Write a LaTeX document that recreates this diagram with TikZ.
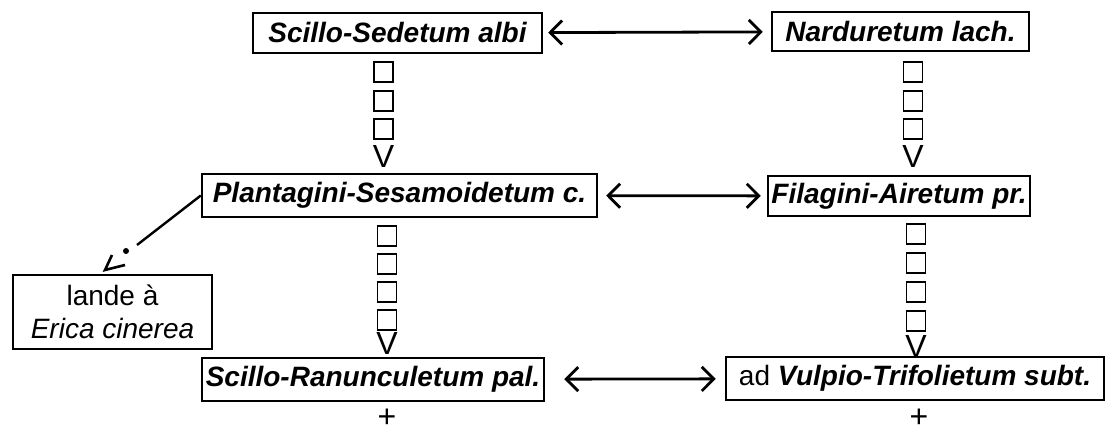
\documentclass[tikz,border=0pt]{standalone}
\usepackage{fontspec}
\setmainfont{Liberation Sans}
\usetikzlibrary{arrows.meta}
\tikzset{
  box/.style={draw, line width=2.4pt, inner sep=0pt, align=center,
    font=\fontsize{28}{32}\selectfont\bfseries\itshape},
  plainbox/.style={draw, line width=2.4pt, inner sep=0pt, align=center,
    font=\fontsize{28}{33}\selectfont},
  sq/.style={draw, line width=1.7pt, minimum width=19pt, minimum height=20pt, inner sep=0pt},
  vv/.style={inner sep=0pt, font=\fontsize{32}{32}\selectfont},
  barb/.tip={Straight Barb[length=12pt,width=24pt,line width=2.8pt]},
  dbl/.style={line width=2.8pt, barb-barb}
}
\begin{document}
\begin{tikzpicture}[x=1pt,y=-1pt]
\useasboundingbox (0,0) rectangle (1107,433);

% boxes
\node[box, minimum width=289pt, minimum height=40pt] (b1) at (397.5,33) {Scillo-Sedetum albi};
\node[box, minimum width=257pt, minimum height=39pt] (b2) at (900.5,31.5) {Narduretum lach.};
\node[box, minimum width=395pt, minimum height=43pt] (b3) at (399.5,195.5) {Plantagini-Sesamoidetum c.};
\node[box, minimum width=262pt, minimum height=40pt] (b4) at (899,196) {Filagini-Airetum pr.};
\node[box, minimum width=342pt, minimum height=43pt] (b5) at (373,379.5) {Scillo-Ranunculetum pal.};
\node[box, minimum width=378pt, minimum height=43pt] (b6) at (915,378.5) {\mdseries\upshape ad \bfseries\itshape Vulpio-Trifolietum subt.};
\node[plainbox, minimum width=199pt, minimum height=74pt] (la) at (112.5,312) {lande à\\\itshape Erica cinerea};

% horizontal double arrows
\draw[dbl, shorten <=5pt, shorten >=8pt] (b1) -- (b2);
\draw[dbl, shorten <=8pt, shorten >=6pt] (b3) -- (b4);
\draw[dbl, shorten <=19pt, shorten >=9pt] (b5) -- (b6);

% vertical chains, top left
\node[sq] (s11) at (383.5,72) {};
\node[sq] (s12) at (383.5,101) {};
\node[sq] (s13) at (383.5,129) {};
\node[vv] (v1) at (383.5,156) {V};
% top right
\node[sq] (s21) at (913,72) {};
\node[sq] (s22) at (913,101) {};
\node[sq] (s23) at (913,129) {};
\node[vv] (v2) at (913,156) {V};
% middle left
\node[sq] (s31) at (387,236) {};
\node[sq] (s32) at (387,264) {};
\node[sq] (s33) at (387,292) {};
\node[sq] (s34) at (387,320) {};
\node[vv] (v3) at (387,343) {V};
% middle right
\node[sq] (s41) at (916,234) {};
\node[sq] (s42) at (916,263) {};
\node[sq] (s43) at (916,292) {};
\node[sq] (s44) at (916,321) {};
\node[vv] (v4) at (916,346) {V};

% plus signs
\node[vv] (p1) at (387,418) {+};
\node[vv] (p2) at (919,418) {+};

% connector to lande
\coordinate (c1) at (137,245);
\coordinate (dt) at (126,251);
\coordinate (tip) at (105,270);
\draw[line width=2.4pt] (b3.west) -- (c1);
\fill (dt) circle (3pt);
\draw[line width=2.6pt, line join=miter] ([shift={(7,-15)}]tip) -- (tip) -- ([shift={(20,-5)}]tip);
\end{tikzpicture}
\end{document}
